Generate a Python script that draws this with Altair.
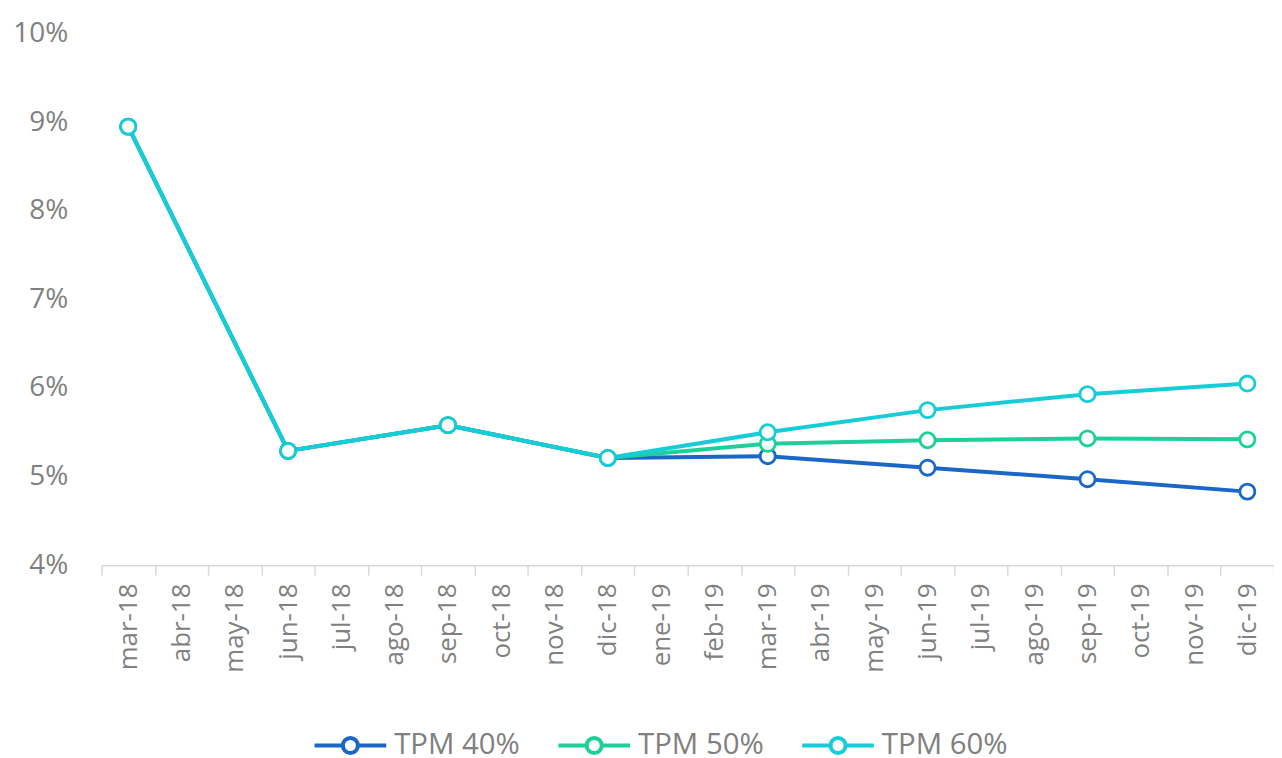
import altair as alt
import pandas as pd

months = ["mar-18", "abr-18", "may-18", "jun-18", "jul-18", "ago-18", "sep-18",
          "oct-18", "nov-18", "dic-18", "ene-19", "feb-19", "mar-19", "abr-19",
          "may-19", "jun-19", "jul-19", "ago-19", "sep-19", "oct-19", "nov-19", "dic-19"]
quarters = ["mar-18", "jun-18", "sep-18", "dic-18", "mar-19", "jun-19", "sep-19", "dic-19"]
series = ["TPM 40%", "TPM 50%", "TPM 60%"]
tpm40 = [8.95, 5.29, 5.58, 5.21, 5.23, 5.10, 4.97, 4.83]
tpm50 = [8.95, 5.29, 5.58, 5.21, 5.37, 5.41, 5.43, 5.42]
tpm60 = [8.95, 5.29, 5.58, 5.21, 5.50, 5.75, 5.93, 6.05]
colors = ["#1a67c7", "#1dcf98", "#16cdd7"]

rows = []
for name, vals in zip(series, [tpm40, tpm50, tpm60]):
    for m, v in zip(quarters, vals):
        rows.append({"mes": m, "serie": name, "valor": v})
df = pd.DataFrame(rows)

font = "Open Sans"
gray = "#808080"

legend_path = ("M-1,0L-0.21,0M0.21,0L1,0"
               "M-0.21,0A0.21,0.21 0 1,1 0.21,0A0.21,0.21 0 1,1 -0.21,0")

x = alt.X("mes:O", sort=months,
          scale=alt.Scale(type="band", domain=months, paddingInner=0, paddingOuter=0),
          bandPosition=0.5,
          axis=alt.Axis(title=None, labelAngle=-90, labelAlign="right", labelBaseline="middle",
                        labelFontSize=26, labelColor=gray, labelFont=font, labelPadding=8,
                        tickBand="extent", tickSize=10, tickColor="#d9d9d9", tickWidth=1.5,
                        domainColor="#d9d9d9", domainWidth=1.5, grid=False))
y = alt.Y("valor:Q", scale=alt.Scale(domain=[4, 10], nice=False, zero=False),
          axis=alt.Axis(title=None, values=[4, 5, 6, 7, 8, 9, 10], labelExpr="datum.value + '%'",
                        labelFontSize=28, labelColor=gray, labelFont=font, labelPadding=34,
                        ticks=False, domain=False, grid=False))
color = alt.Color("serie:N", scale=alt.Scale(domain=series, range=colors),
                  legend=alt.Legend(title=None, orient="none", direction="horizontal",
                                    legendX=212, legendY=677,
                                    symbolType=legend_path, symbolSize=5184,
                                    symbolStrokeWidth=4, symbolFillColor="white",
                                    labelFontSize=29.5, labelColor=gray, labelFont=font,
                                    labelOffset=6, columnPadding=30))

base = alt.Chart(df).encode(x=x, y=y, color=color, order=alt.Order("serie:N"))
lines = base.mark_line(strokeWidth=4)
points = base.mark_point(filled=False, fill="white", opacity=1, size=230, strokeWidth=2.8)

chart = alt.layer(lines, points).properties(
    width=1178, height=534,
    autosize=alt.AutoSizeParams(type="none"),
    padding={"left": 94, "top": 24, "right": 0, "bottom": 192},
).configure_view(stroke=None)

chart.save("out.html", embed_options={"renderer": "svg", "actions": False})
